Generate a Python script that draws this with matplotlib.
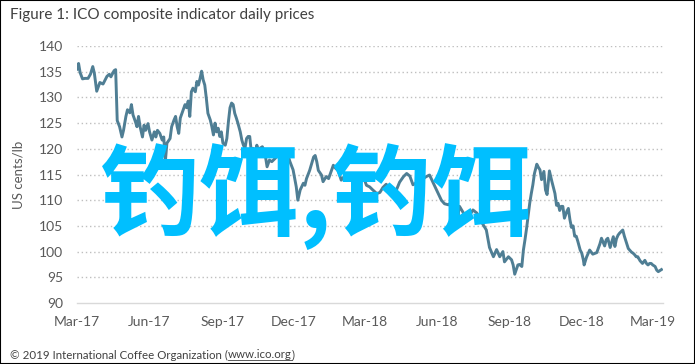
import matplotlib
matplotlib.use("Agg")
import matplotlib.pyplot as plt
from matplotlib.patches import Rectangle
import pandas as pd

# ---- data ----
start_date = "2017-03-01"
day_offsets = [0, 2, 4, 7, 10, 14, 17, 20, 22, 25, 29, 33, 38, 41, 43, 47, 49, 51, 54, 57, 59, 62, 64, 67, 69, 71,
               74, 76, 78, 80, 83, 85, 87, 90, 92, 95, 98, 100, 102, 105, 108, 110, 112, 114, 118, 120, 123, 125,
               127, 129, 131, 134, 137, 139, 141, 143, 145, 147, 150, 152, 154, 156, 158, 160, 162, 164, 166, 169,
               171, 173, 175, 177, 179, 181, 183, 185, 188, 190, 192, 194, 196, 198, 200, 202, 204, 207, 209, 211,
               213, 215, 217, 219, 221, 223, 226, 228, 230, 232, 235, 238, 241, 244, 247, 251, 255, 259, 264, 268,
               270, 274, 278, 280, 283, 287, 289, 291, 295, 300, 302, 304, 306, 310, 312, 316, 319, 323, 325, 328,
               331, 333, 335, 342, 348, 356, 363, 367, 371, 375, 380, 384, 388, 392, 397, 401, 405, 409, 414, 418,
               422, 426, 435, 443, 447, 450, 454, 458, 462, 466, 471, 475, 481, 483, 485, 490, 494, 498, 502, 507,
               512, 519, 523, 528, 532, 536, 540, 542, 547, 551, 553, 555, 557, 559, 561, 564, 566, 568, 570, 572,
               574, 576, 578, 580, 583, 585, 587, 589, 592, 594, 596, 599, 602, 606, 608, 610, 612, 614, 616, 618,
               621, 623, 625, 627, 629, 631, 633, 635, 638, 640, 642, 643, 646, 650, 654, 659, 663, 665, 669, 671,
               673, 676, 680, 682, 684, 686, 688, 692, 694, 697, 699, 703, 705, 707, 709, 711, 714, 717, 720, 722,
               724, 726, 728, 730, 733, 735, 737, 739, 741]
prices = [135.5, 136.6, 134.8, 133.6, 133.7, 133.7, 134.5, 136.0, 134.7, 131.2, 132.9, 132.6, 134.1, 134.5, 134.0,
          135.2, 135.4, 125.5, 124.3, 122.3, 123.6, 126.3, 127.6, 127.0, 128.6, 126.6, 125.3, 124.3, 126.3, 124.3,
          122.3, 124.6, 123.6, 124.9, 123.3, 121.7, 123.3, 122.3, 123.6, 123.0, 121.7, 122.3, 117.5, 121.1, 122.0,
          124.3, 125.6, 126.3, 124.3, 123.0, 126.0, 127.3, 128.6, 128.0, 129.3, 126.3, 131.1, 131.8, 131.1, 133.1,
          132.4, 133.7, 135.1, 133.4, 132.4, 129.8, 126.9, 125.6, 124.3, 122.7, 125.0, 123.3, 124.0, 122.4, 123.3,
          121.1, 120.7, 122.0, 125.3, 128.0, 128.9, 128.6, 126.9, 126.0, 125.0, 123.3, 121.7, 120.7, 120.1, 122.0,
          122.4, 122.4, 119.4, 120.1, 119.4, 120.7, 119.8, 120.1, 120.4, 119.4, 116.5, 117.8, 117.5, 118.1, 118.8,
          119.4, 118.8, 118.5, 117.5, 115.9, 112.6, 110.0, 112.0, 113.3, 112.9, 114.2, 115.8, 118.4, 118.7, 117.5,
          115.8, 114.9, 113.6, 114.6, 114.2, 115.9, 116.8, 116.2, 115.8, 114.9, 113.9, 115.2, 115.0, 114.9, 114.6,
          112.9, 112.6, 112.0, 111.3, 111.5, 112.5, 113.1, 112.3, 112.1, 112.0, 113.5, 114.6, 115.2, 114.7, 113.0,
          113.8, 114.6, 114.9, 113.9, 112.6, 111.3, 110.0, 109.3, 109.1, 109.7, 109.4, 107.1, 108.8, 107.5, 106.2,
          107.1, 108.1, 107.5, 106.0, 104.2, 100.8, 99.0, 100.4, 99.0, 100.0, 98.0, 99.0, 98.4, 97.4, 95.6, 96.5,
          97.4, 97.5, 97.1, 100.3, 102.3, 104.5, 106.9, 109.4, 111.3, 113.0, 115.2, 117.0, 116.4, 115.9, 114.0,
          115.6, 112.0, 111.1, 115.7, 113.7, 111.3, 109.0, 109.4, 108.0, 108.8, 108.8, 106.5, 107.8, 108.4, 106.2,
          104.7, 105.0, 103.0, 103.0, 102.0, 100.3, 99.7, 98.4, 97.4, 98.9, 100.3, 99.5, 99.8, 101.5, 102.6, 101.1,
          102.3, 102.6, 100.8, 102.9, 101.0, 102.5, 103.2, 103.6, 104.2, 103.0, 101.6, 100.6, 99.9, 99.7, 99.4,
          99.0, 99.0, 98.2, 97.7, 98.3, 97.7, 97.4, 97.7, 97.7, 97.4, 97.1, 96.4, 96.1, 96.3, 96.5]
y_ticks = [90, 95, 100, 105, 110, 115, 120, 125, 130, 135, 140]
x_tick_dates = ["2017-03-01", "2017-06-01", "2017-09-01", "2017-12-01", "2018-03-01",
                "2018-06-01", "2018-09-01", "2018-12-01", "2019-03-01"]
x_tick_labels = ["Mar-17", "Jun-17", "Sep-17", "Dec-17", "Mar-18", "Jun-18", "Sep-18", "Dec-18", "Mar-19"]
title = "Figure 1: ICO composite indicator daily prices"
y_label = "US cents/lb"
footer_pre = "\u00a9 2019 International Coffee Organization ("
footer_link = "www.ico.org"
footer_post = ")"
watermark = "钓饵,钓饵"

dates = pd.Timestamp(start_date) + pd.to_timedelta(day_offsets, unit="D")

plt.rcParams['font.family'] = ['Lato', 'DejaVu Sans']
fig = plt.figure(figsize=(6.95, 3.64), dpi=100)
W, H = 695, 364

ax = fig.add_axes([77 / W, 61 / H, 586 / W, 257 / H])
ax.plot(dates, prices, color="#4F7E94", lw=2.1, solid_joinstyle="round")
ax.set_xlim(pd.Timestamp(start_date), pd.Timestamp(start_date) + pd.Timedelta(days=743))
ax.set_ylim(90, 140)
ax.set_yticks(y_ticks)
ax.set_xticks(pd.to_datetime(x_tick_dates))
ax.set_xticklabels(x_tick_labels)
for s in ["top", "right", "left"]:
    ax.spines[s].set_visible(False)
ax.spines["bottom"].set_color("#D9D9D9")
ax.spines["bottom"].set_linewidth(1.0)
ax.tick_params(axis="both", length=0, colors="#595959", labelsize=10)
ax.tick_params(axis="x", pad=9)
ax.tick_params(axis="y", pad=10)
for v in y_ticks[1:]:
    ax.axhline(v, color="#BFBFBF", lw=1.0, ls=(0, (1, 2)), zorder=0)
ax.set_ylabel(y_label, color="#595959", fontsize=9.5, labelpad=10)
ax.yaxis.set_label_coords(-0.09, 0.5)

fig.text(10 / W, 1 - 15 / H, title, fontsize=11, color="#404040", va="center", ha="left")

fs = 8.3
t1 = fig.text(10 / W, 1 - 355 / H, footer_pre, fontsize=fs, color="#404040", va="center", ha="left")
fig.canvas.draw()
r = fig.canvas.get_renderer()
bb = t1.get_window_extent(r)
t2 = fig.text(bb.x1 / W, 1 - 355 / H, footer_link, fontsize=fs, color="#404040", va="center", ha="left")
bb2 = t2.get_window_extent(r)
fig.add_artist(plt.Line2D([bb2.x0 / W, bb2.x1 / W], [(bb2.y0 + 0.5) / H] * 2, color="#404040", lw=0.6))
fig.text(bb2.x1 / W, 1 - 355 / H, footer_post, fontsize=fs, color="#404040", va="center", ha="left")

fig.text(316 / W, 1 - 197 / H, watermark, fontsize=72, color="#00BFFF", fontweight="bold",
         family=['Noto Sans CJK SC', 'DejaVu Sans'], ha="center", va="center", zorder=10)

fig.add_artist(Rectangle((0, 0), 1, 1, transform=fig.transFigure, fill=False, edgecolor="black", lw=1.5))

fig.savefig("out.png", dpi=100)
